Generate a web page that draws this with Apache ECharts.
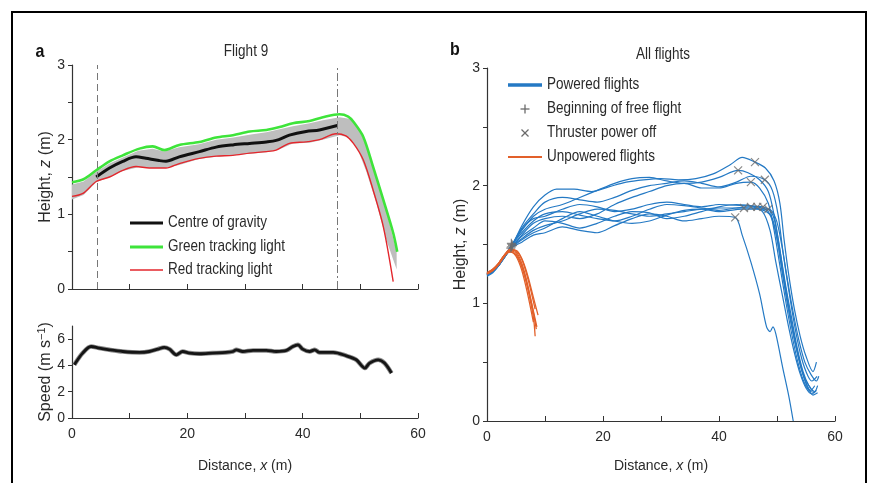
<!DOCTYPE html>
<html>
<head>
<meta charset="utf-8">
<script src="https://cdn.jsdelivr.net/npm/echarts@6/dist/echarts.min.js"></script>
<style>
  html, body { margin: 0; padding: 0; background: #fff; }
  #chart { width: 870px; height: 483px; }
</style>
</head>
<body>
<div id="chart"></div>
<script>
// ---- Flight 9: tracking lights and centre of gravity (x in m, z in m) ----
const greenX = [0, 2, 4.2, 6.5, 8.8, 11.7, 14, 16, 18.6, 22.1, 25, 27.9, 30.8, 33.7, 36, 38.3, 41.2, 43.5, 46.4, 47.9, 48.8, 50.5, 52.2, 54, 55.7, 56.4];
const greenZ = [1.43, 1.47, 1.59, 1.71, 1.79, 1.88, 1.91, 1.86, 1.93, 1.97, 2.03, 2.06, 2.11, 2.13, 2.17, 2.22, 2.25, 2.30, 2.34, 2.31, 2.24, 2.04, 1.64, 1.19, 0.75, 0.50];

const redX = [0, 1.9, 4.2, 6.5, 8.8, 11.1, 13.4, 16.3, 18.6, 22.1, 25, 27.9, 30.8, 33.7, 35.4, 37.7, 40.6, 42.9, 45.8, 47.5, 48.8, 50.5, 52.2, 54, 55.7];
const redZ = [1.24, 1.28, 1.44, 1.50, 1.59, 1.64, 1.62, 1.62, 1.68, 1.75, 1.78, 1.79, 1.82, 1.84, 1.86, 1.95, 1.97, 2.00, 2.08, 2.05, 1.95, 1.73, 1.33, 0.83, 0.10];

const cogX = [4.2, 6.5, 8.8, 11.1, 12.8, 15.1, 16.3, 18.6, 22.1, 25, 27.9, 30.8, 33.7, 35.4, 37.7, 40.6, 42.9, 46];
const cogZ = [1.50, 1.62, 1.71, 1.77, 1.75, 1.72, 1.71, 1.77, 1.84, 1.90, 1.93, 1.95, 1.97, 1.99, 2.06, 2.11, 2.13, 2.19];

// spread band around the body
const bandX    = [0, 2, 4.2, 6.5, 8.8, 11.5, 14, 16, 18.6, 22, 25, 28, 31, 33.7, 36, 38.3, 41.2, 43.5, 46.4, 48.1, 49.6, 51, 52.8, 54.5, 56.3];
const bandHigh = [1.40, 1.44, 1.57, 1.68, 1.76, 1.85, 1.88, 1.84, 1.90, 1.94, 2.00, 2.03, 2.07, 2.10, 2.14, 2.18, 2.22, 2.26, 2.30, 2.28, 2.17, 1.92, 1.50, 1.05, 0.50];
const bandLow  = [1.20, 1.26, 1.43, 1.50, 1.58, 1.63, 1.62, 1.62, 1.66, 1.74, 1.77, 1.79, 1.81, 1.83, 1.87, 1.95, 1.96, 2.00, 2.06, 2.03, 1.86, 1.58, 1.15, 0.66, 0.26];

// flight-phase boundaries (m)
const phaseMarks = [4.3, 46];

// ---- Flight 9: speed (m/s) ----
const speedX = [0.4, 1.85, 3.3, 4.7, 6.5, 8.8, 11.7, 13.4, 14.9, 16.0, 16.9, 18.1, 19.2, 20.4, 22.1, 24.4, 26.7, 27.9, 28.5, 29.6, 31.4, 33.7, 35.4, 37.2, 38.3, 39.2, 40.0, 41.2, 42.1, 42.9, 45.3, 47.6, 49.3, 50.8, 51.6, 53.1, 54.2, 55.4];
const speedV = [4.05, 4.94, 5.44, 5.32, 5.19, 5.06, 4.99, 5.06, 5.24, 5.37, 5.24, 4.81, 5.06, 4.94, 4.89, 4.94, 4.99, 5.06, 5.19, 5.06, 5.14, 5.14, 5.06, 5.14, 5.44, 5.57, 5.24, 5.06, 5.19, 4.99, 4.99, 4.73, 4.43, 3.80, 4.18, 4.43, 4.18, 3.42];

// ---- All flights: powered trajectories [x, z] ----
const poweredFlights = [
  [[0,1.24],[1,1.27],[2,1.32],[3,1.40],[4.2,1.48],[6,1.66],[8,1.82],[10,1.92],[12,1.97],[15,1.97],[18,1.95],[21,1.99],[24,2.03],[27,2.05],[30,2.06],[33,2.05],[36,2.06],[39,2.10],[42,2.18],[44,2.24],[46.2,2.20],[48,2.15],[49.5,2.04],[50.5,1.85],[51.2,1.55],[52,1.25],[53,0.95],[54,0.72],[55,0.55],[56.2,0.42],[56.8,0.50]],
  [[0,1.25],[1,1.28],[2,1.33],[3,1.40],[4.2,1.49],[6,1.62],[8,1.74],[10,1.80],[13,1.84],[16,1.90],[19,1.96],[22,2.02],[25,2.06],[28,2.07],[31,2.04],[34,2.02],[37,2.03],[40,2.07],[43.3,2.13],[45,2.11],[47,2.05],[48.5,1.95],[49.5,1.75],[50.5,1.45],[51.5,1.15],[52.5,0.88],[53.5,0.62],[54.5,0.42],[55.5,0.30],[56.5,0.25],[57,0.30]],
  [[0,1.24],[1,1.27],[2,1.32],[3,1.39],[4.2,1.47],[6,1.58],[8,1.68],[10,1.72],[13,1.74],[16,1.72],[19,1.76],[22,1.84],[25,1.90],[28,1.95],[31,2.00],[34,2.02],[37,1.98],[40,1.98],[43,2.02],[45.5,2.03],[47,1.98],[48.5,1.85],[49.5,1.62],[50.5,1.32],[51.5,1.02],[52.5,0.75],[53.5,0.52],[54.5,0.35],[55.5,0.26],[56.5,0.24]],
  [[0,1.25],[1,1.28],[2,1.33],[3,1.40],[4.2,1.48],[6,1.64],[8,1.76],[10,1.86],[13,1.90],[16,1.88],[19,1.86],[22,1.90],[25,1.96],[28,2.00],[31,2.02],[34,2.04],[37,2.02],[40,1.99],[43,2.03],[45.5,2.08],[47.9,2.05],[49.2,1.96],[50.2,1.75],[51,1.45],[52,1.12],[53,0.82],[54,0.58],[55,0.42],[56,0.34],[56.9,0.38]],
  [[0,1.23],[1,1.26],[2,1.32],[3,1.39],[4.2,1.48],[6,1.55],[8,1.62],[10,1.66],[13,1.70],[16,1.76],[19,1.80],[22,1.79],[25,1.76],[28,1.74],[31,1.76],[34,1.78],[37,1.80],[40,1.81],[44.3,1.81],[47,1.80],[49,1.74],[50,1.55],[51,1.25],[52,0.95],[53,0.70],[54,0.48],[55,0.32],[55.8,0.26],[56.5,0.30]],
  [[0,1.24],[1,1.27],[2,1.32],[3,1.39],[4.2,1.47],[6,1.52],[8,1.58],[10,1.60],[13,1.65],[16,1.62],[19,1.60],[22,1.66],[25,1.72],[28,1.76],[31,1.74],[34,1.70],[37,1.72],[40,1.74],[42.8,1.73],[44,1.58],[45.5,1.35],[47,1.08],[48.2,0.80],[48.8,0.76],[49.3,0.80],[49.8,0.74],[51,0.45],[52,0.22],[52.8,0.0]],
  [[0,1.25],[1,1.28],[2,1.33],[3,1.40],[4.2,1.49],[6,1.60],[8,1.70],[10,1.76],[13,1.78],[16,1.75],[19,1.72],[22,1.70],[25,1.74],[28,1.80],[31,1.84],[34,1.83],[37,1.81],[40,1.79],[43,1.81],[45.5,1.82],[47.5,1.78],[48.8,1.62],[49.8,1.35],[51,1.05],[52,0.80],[53,0.58],[54,0.40],[55,0.28],[56,0.23],[56.8,0.26]],
  [[0,1.24],[1,1.27],[2,1.32],[3,1.39],[4.2,1.48],[6,1.57],[8,1.64],[10,1.70],[13,1.68],[16,1.64],[19,1.68],[22,1.74],[25,1.78],[28,1.77],[31,1.72],[34,1.74],[37,1.78],[40,1.82],[43,1.84],[46.6,1.82],[48.5,1.78],[49.8,1.60],[50.8,1.30],[51.8,1.00],[52.8,0.74],[53.8,0.52],[54.8,0.36],[55.8,0.28]],
  [[0,1.25],[1,1.28],[2,1.33],[3,1.40],[4.2,1.49],[6,1.63],[8,1.72],[10,1.74],[13,1.80],[16,1.84],[19,1.82],[22,1.78],[25,1.80],[28,1.84],[31,1.86],[34,1.84],[37,1.82],[40,1.84],[44,1.83],[47.6,1.82],[49.2,1.76],[50.2,1.55],[51.2,1.22],[52.2,0.92],[53.2,0.66],[54.2,0.45],[55.2,0.30],[56.2,0.22],[57,0.24]],
  [[0,1.24],[1,1.27],[2,1.32],[3,1.39],[4.2,1.47],[6,1.54],[8,1.60],[10,1.64],[13,1.72],[16,1.78],[19,1.74],[22,1.70],[25,1.68],[28,1.70],[31,1.75],[34,1.79],[37,1.80],[40,1.78],[44,1.80],[48.5,1.80],[49.8,1.72],[50.8,1.50],[51.8,1.20],[52.8,0.92],[53.8,0.68],[54.8,0.50],[55.8,0.40],[56.8,0.34],[57.2,0.38]]
];

// ---- All flights: unpowered trajectories [x, z] ----
const unpoweredFlights = [
  [[0,1.26],[1,1.29],[2,1.34],[3,1.41],[4,1.46],[5,1.44],[6,1.34],[7,1.16],[8,0.92],[8.5,0.78]],
  [[0,1.25],[1,1.28],[2,1.33],[3,1.40],[3.8,1.44],[5,1.41],[6,1.31],[7,1.13],[8,0.88],[8.3,0.72]],
  [[0,1.26],[1,1.29],[2,1.34],[3,1.41],[4,1.45],[5,1.45],[6,1.38],[7,1.24],[8,1.05],[8.8,0.90]],
  [[0,1.25],[1,1.28],[2,1.34],[3,1.41],[4,1.44],[5,1.40],[6,1.28],[7,1.08],[8,0.84]],
  [[0,1.26],[1,1.29],[2,1.34],[3,1.41],[4.2,1.46],[5.2,1.44],[6.2,1.35],[7.2,1.18],[8.3,0.95]],
  [[0,1.25],[1,1.28],[2,1.33],[3,1.40],[3.6,1.43],[4.6,1.44],[5.6,1.37],[6.6,1.22],[7.6,1.02],[8.6,0.80]]
];

// event markers [x, z]
const freeFlightStart = [[4.2,1.48],[4.3,1.50],[4.1,1.47],[4.4,1.49],[4.2,1.51]];
const thrusterOff = [[46.2,2.20],[43.3,2.13],[45.5,2.03],[47.9,2.05],[44.3,1.81],[42.8,1.73],[45.5,1.82],[46.6,1.82],[47.6,1.82],[48.5,1.80]];

// axis ticks / labels
const xTicks = [0, 10, 20, 30, 40, 50, 60];
const xLabels = [0, 20, 40, 60];
const zTicks = [0, 0.5, 1, 1.5, 2, 2.5, 3];
const zLabels = [0, 1, 2, 3];
const speedTicks = [0, 2, 4, 6];

// ---------------------------------------------------------------
const FONT = '"Liberation Sans", Arial, sans-serif';
const FS = 13.5;
const TXT = '#2a2a2a';
const AX = '#333';
const BLUE = '#2479c4';
const ORANGE = '#e2602a';
const MARK = '#6b6b6b';
const TALL = 1.2;   // vertical stretch applied to free-standing texts

const pairs = (xs, ys) => xs.map((x, i) => [x, ys[i]]);

function xAxisCfg(grid, withLabels, gap) {
  return {
    type: 'value', gridIndex: grid, min: 0, max: 60,
    axisLine: { lineStyle: { color: AX, width: 1.2 } },
    axisTick: { inside: true, length: 5, customValues: xTicks, lineStyle: { color: AX } },
    axisLabel: withLabels
      ? { customValues: xLabels, margin: 9, color: TXT, fontFamily: FONT, fontSize: 14 }
      : { show: false },
    splitLine: { show: false },
    name: withLabels ? 'Distance, {i|x} (m)' : '',
    nameLocation: 'middle', nameGap: gap,
    nameTextStyle: { color: TXT, fontFamily: FONT, fontSize: 14,
      rich: { i: { fontStyle: 'italic', fontFamily: FONT, fontSize: 14, color: TXT } } }
  };
}

function yAxisCfg(grid, max, ticks, labels, name, gap) {
  const NF = 16;
  return {
    type: 'value', gridIndex: grid, min: 0, max: max,
    axisLine: { show: true, lineStyle: { color: AX, width: 1.2 } },
    axisTick: { show: true, inside: false, length: 4, customValues: ticks, lineStyle: { color: AX } },
    axisLabel: { customValues: labels, margin: 7, color: TXT, fontFamily: FONT, fontSize: 14 },
    splitLine: { show: false },
    name: name, nameLocation: 'middle', nameGap: gap,
    nameTextStyle: { color: TXT, fontFamily: FONT, fontSize: NF,
      rich: {
        i: { fontStyle: 'italic', fontFamily: FONT, fontSize: NF, color: TXT },
        sup: { fontFamily: FONT, fontSize: 11, color: TXT, verticalAlign: 'top', padding: [0, 0, 6, 0] }
      } }
  };
}

const series = [];

// spread band, drawn as one polygon between the lower and upper bounds
series.push({
  type: 'custom', xAxisIndex: 0, yAxisIndex: 0, silent: true, z: 1,
  data: [[bandX[0], bandLow[0]]],
  renderItem: function (params, api) {
    const pts = bandX.map((x, i) => api.coord([x, bandHigh[i]]));
    for (let i = bandX.length - 1; i >= 0; i--) pts.push(api.coord([bandX[i], bandLow[i]]));
    return { type: 'polygon', shape: { points: pts }, style: { fill: '#bebebe' } };
  }
});
series.push({
  name: 'Green tracking light', type: 'line', xAxisIndex: 0, yAxisIndex: 0, symbol: 'none', smooth: 0.3,
  data: pairs(greenX, greenZ), lineStyle: { color: '#3ee43a', width: 2.6 }, z: 3
});
series.push({
  name: 'Red tracking light', type: 'line', xAxisIndex: 0, yAxisIndex: 0, symbol: 'none', smooth: 0.3,
  data: pairs(redX, redZ), lineStyle: { color: '#e3262c', width: 1.4 }, z: 3
});
series.push({
  name: 'Centre of gravity', type: 'line', xAxisIndex: 0, yAxisIndex: 0, symbol: 'none', smooth: 0.3,
  data: pairs(cogX, cogZ), lineStyle: { color: '#111', width: 3 }, z: 4,
  markLine: {
    silent: true, symbol: 'none', label: { show: false },
    data: [
      { xAxis: phaseMarks[0], lineStyle: { color: '#777', width: 1, type: [7, 4] } },
      { xAxis: phaseMarks[1], lineStyle: { color: '#777', width: 1, type: [8, 3, 2, 3] } }
    ]
  }
});

// speed
series.push({
  type: 'line', xAxisIndex: 1, yAxisIndex: 1, symbol: 'none', smooth: 0.3,
  data: pairs(speedX, speedV), lineStyle: { color: '#8a8a8a', width: 4.5 }, z: 2
});
series.push({
  type: 'line', xAxisIndex: 1, yAxisIndex: 1, symbol: 'none', smooth: 0.3,
  data: pairs(speedX, speedV), lineStyle: { color: '#151515', width: 2.8 }, z: 3
});

// all flights
poweredFlights.forEach(f => series.push({
  type: 'line', xAxisIndex: 2, yAxisIndex: 2, symbol: 'none', smooth: 0.3,
  data: f, lineStyle: { color: BLUE, width: 1.2 }, z: 2
}));
unpoweredFlights.forEach(f => series.push({
  type: 'line', xAxisIndex: 2, yAxisIndex: 2, symbol: 'none', smooth: 0.3,
  data: f, lineStyle: { color: ORANGE, width: 1.3 }, z: 3
}));
series.push({
  type: 'scatter', xAxisIndex: 2, yAxisIndex: 2, data: freeFlightStart,
  symbol: 'path://M5,0L5,10M0,5L10,5', symbolSize: 9,
  itemStyle: { color: 'none', borderColor: MARK, borderWidth: 1.2 }, z: 5
});
series.push({
  type: 'scatter', xAxisIndex: 2, yAxisIndex: 2, data: thrusterOff,
  symbol: 'path://M0,0L10,10M10,0L0,10', symbolSize: 8,
  itemStyle: { color: 'none', borderColor: MARK, borderWidth: 1.2 }, z: 5
});

// legend entries and panel headings
function legendLine(x1, x2, y, color, w) {
  return { type: 'line', z: 100, shape: { x1: x1, y1: y, x2: x2, y2: y }, style: { stroke: color, lineWidth: w } };
}
function seg(x1, y1, x2, y2) {
  return { type: 'line', z: 100, shape: { x1: x1, y1: y1, x2: x2, y2: y2 }, style: { stroke: MARK, lineWidth: 1.3 } };
}
function label(x, y, text, opts) {
  return { type: 'text', z: 100, x: x, y: y, scaleY: TALL, style: Object.assign({
    text: text, fill: TXT, font: FS + 'px ' + FONT, textVerticalAlign: 'middle' }, opts || {}) };
}
const graphics = [
  { type: 'rect', z: 100, shape: { x: 12, y: 12, width: 854, height: 490 },
    style: { fill: 'none', stroke: '#000', lineWidth: 2 } },
  label(40, 52, 'a', { font: 'bold 16px ' + FONT, fill: '#111', textAlign: 'center' }),
  label(455, 50, 'b', { font: 'bold 16px ' + FONT, fill: '#111', textAlign: 'center' }),
  label(246, 52, 'Flight 9', { textAlign: 'center' }),
  label(663, 55, 'All flights', { textAlign: 'center' }),

  legendLine(130, 163, 223, '#111', 3),
  label(168, 223, 'Centre of gravity'),
  legendLine(130, 163, 247, '#3ee43a', 3),
  label(168, 247, 'Green tracking light'),
  legendLine(130, 163, 270, '#e3262c', 1.5),
  label(168, 270, 'Red tracking light'),

  legendLine(508, 542, 85, BLUE, 3.5),
  label(547, 85, 'Powered flights'),
  seg(520.5, 109, 529.5, 109),
  seg(525, 104.5, 525, 113.5),
  label(547, 109, 'Beginning of free flight'),
  seg(521.5, 129.5, 528.5, 136.5),
  seg(528.5, 129.5, 521.5, 136.5),
  label(547, 133, 'Thruster power off'),
  legendLine(508, 542, 157, ORANGE, 2),
  label(547, 157, 'Unpowered flights')
];

const chart = echarts.init(document.getElementById('chart'), null, { renderer: 'canvas' });
chart.setOption({
  animation: false,
  backgroundColor: '#fff',
  grid: [
    { left: 72, top: 65, width: 346, height: 224 },
    { left: 72, top: 326, width: 346, height: 92 },
    { left: 487, top: 68, width: 348, height: 353 }
  ],
  xAxis: [xAxisCfg(0, false, 40), xAxisCfg(1, true, 41), xAxisCfg(2, true, 38)],
  yAxis: [
    yAxisCfg(0, 3, zTicks, zLabels, 'Height, {i|z} (m)', 16),
    yAxisCfg(1, 7, speedTicks, speedTicks, 'Speed (m s{sup|−1})', 17),
    yAxisCfg(2, 3, zTicks, zLabels, 'Height, {i|z} (m)', 14)
  ],
  series: series,
  graphic: graphics
});
</script>
</body>
</html>
